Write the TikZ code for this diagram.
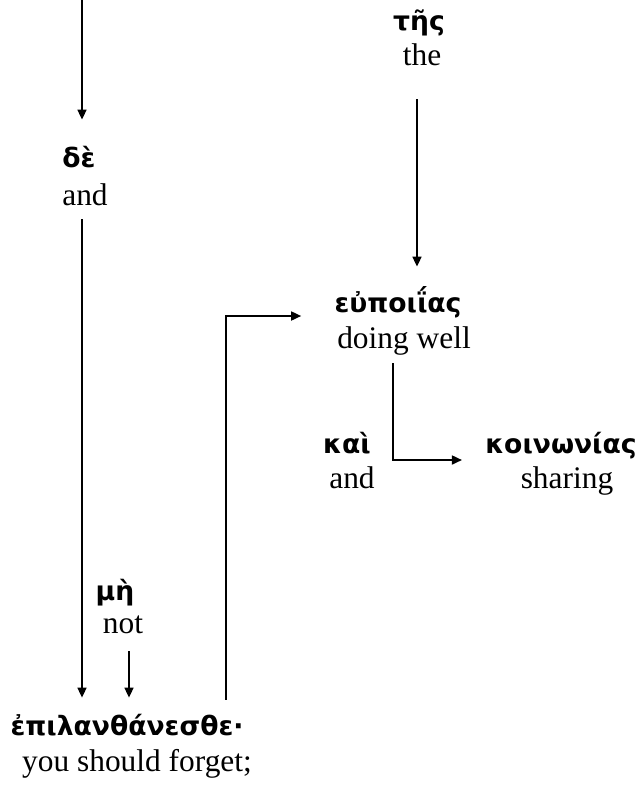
\documentclass[tikz,border=0pt]{standalone}
\usepackage{fontspec}
\setmainfont{Liberation Serif}
\newfontfamily\grk{DejaVu Sans}
\usetikzlibrary{arrows.meta,calc}
\begin{document}
\begin{tikzpicture}[x=0.5pt,y=-0.5pt,
  gr/.style={font=\grk\bfseries\fontsize{13.3}{15}\selectfont, anchor=base, inner sep=0, text height=10pt, text depth=3pt},
  en/.style={font=\fontsize{15.7}{18}\selectfont, anchor=base, inner sep=0, text height=11pt, text depth=3.5pt},
  arr/.style={line width=0.85pt, -{Triangle[length=5pt,width=4.5pt]}}]
\useasboundingbox (0,0) rectangle (637,788);
% words
\node[gr] (gde) at (79,167) {δὲ};
\node[en] (ede) at (85,205) {and};
\node[gr] (gtes) at (419,30) {τῆς};
\node[en] (etes) at (422,65) {the};
\node[gr] (geu) at (398,312) {εὐποιΐας};
\node[en] (eeu) at (404,348) {doing well};
\node[gr] (gkai) at (347,453) {καὶ};
\node[en] (ekai) at (352,488) {and};
\node[gr] (gkoi) at (561,453) {κοινωνίας};
\node[en] (ekoi) at (567,488) {sharing};
\node[gr] (gme) at (115,600) {μὴ};
\node[en] (eme) at (123,633) {not};
\node[gr] (gepi) at (127,735) {ἐπιλανθάνεσθε·};
\node[en] (eepi) at (137,771) {you should forget;};
% guide coordinates
\coordinate (top) at (82,0);
\coordinate (xm) at (129,0);
\coordinate (xt) at (417,0);
\coordinate (b1) at (226,316);
\coordinate (b2) at (393,460);
% connectors
\draw[arr, shorten >=13.5pt] (top) -- (top |- gde.north);
\draw[arr, shorten <=3.5pt, shorten >=8.5pt] (top |- ede.south) -- (top |- gepi.north);
\draw[arr, shorten <=5.5pt, shorten >=8.5pt] (xm |- eme.south) -- (xm |- gepi.north);
\draw[arr, shorten <=7.5pt, shorten >=16.5pt] (b1 |- gepi.north) -- (b1) -- (geu.west |- b1);
\draw[arr, shorten <=13.5pt, shorten >=12.5pt] (xt |- etes.south) -- (xt |- geu.north);
\draw[arr, shorten <=4pt, shorten >=11.5pt] (b2 |- eeu.south) -- (b2) -- (gkoi.west |- b2);
\end{tikzpicture}
\end{document}
